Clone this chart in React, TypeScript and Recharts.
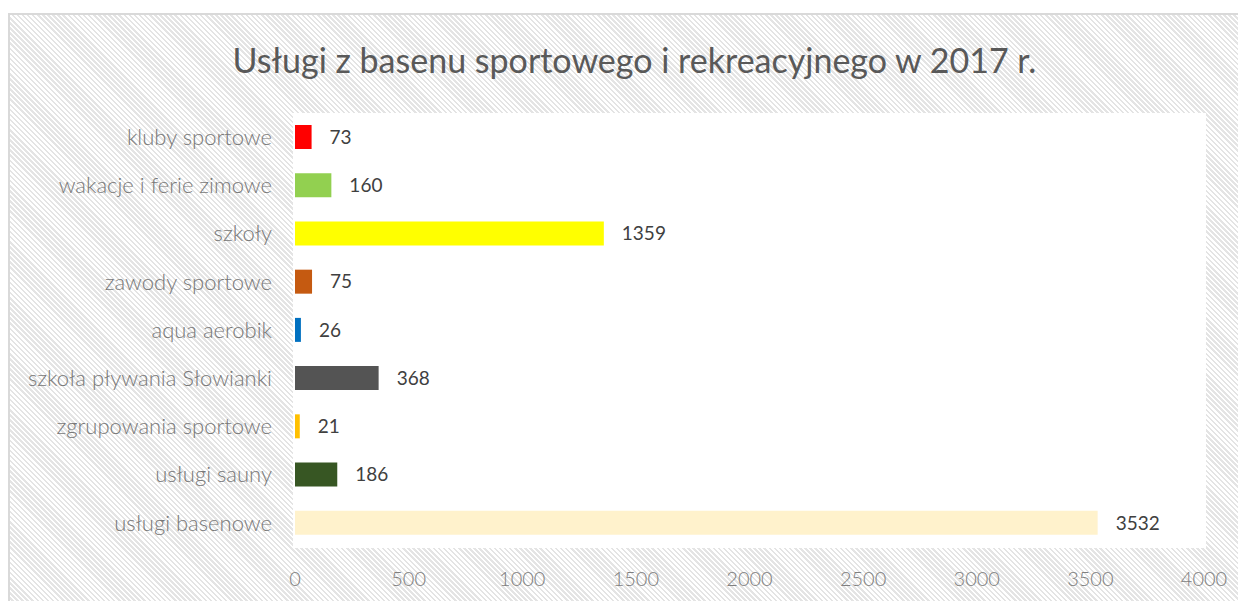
import { BarChart, Bar, XAxis, YAxis, Cell, LabelList } from 'recharts';

// categories top → bottom, as in the picture
const categories = [
  'kluby sportowe',
  'wakacje i ferie zimowe',
  'szkoły',
  'zawody sportowe',
  'aqua aerobik',
  'szkoła pływania Słowianki',
  'zgrupowania sportowe',
  'usługi sauny',
  'usługi basenowe',
];

const values = [73, 160, 1359, 75, 26, 368, 21, 186, 3532];

const colors = ['#ff0000', '#92d050', '#ffff00', '#c55a11', '#0070c0', '#545454', '#ffc000', '#375623', '#fff2cc'];

const xTicks = [0, 500, 1000, 1500, 2000, 2500, 3000, 3500, 4000];

const title = 'Usługi z basenu sportowego i rekreacyjnego w 2017 r.';

const data = categories.map((name, i) => ({ name, value: values[i], color: colors[i] }));

const FONT = 'Lato, "Open Sans", sans-serif';

// plot box inside the chart svg
const PLOT = { left: 285, top: 98, right: 42, bottom: 55 };
const W = 1236;
const H = 587;

export default function App() {
  return (
    <div
      style={{
        position: 'relative',
        marginTop: 5,
        width: W,
        height: H,
        borderTop: '2px solid #d9d9d9',
        borderLeft: '2px solid #d9d9d9',
        background:
          'repeating-linear-gradient(45deg, #ffffff 0px, #ffffff 1.8px, #e4e4e4 1.8px, #e4e4e4 3.6px)',
        overflow: 'hidden',
        fontFamily: FONT,
      }}
    >
      {/* white plot area */}
      <div
        style={{
          position: 'absolute',
          left: PLOT.left - 2,
          top: PLOT.top,
          width: W - PLOT.left - PLOT.right + 4,
          height: H - PLOT.top - PLOT.bottom + 1,
          background: '#ffffff',
        }}
      />
      <div
        style={{
          position: 'absolute',
          top: 24,
          left: 0,
          width: 1249,
          textAlign: 'center',
          fontSize: 34,
          color: '#595959',
          whiteSpace: 'nowrap',
        }}
      >
        {title}
      </div>
      <div style={{ position: 'absolute', top: 0, left: 0 }}>
        <BarChart
          width={W}
          height={H}
          data={data}
          layout="vertical"
          margin={{ top: PLOT.top, right: PLOT.right, left: 0, bottom: 0 }}
        >
          <XAxis
            type="number"
            domain={[0, 4000]}
            ticks={xTicks}
            height={PLOT.bottom}
            axisLine={false}
            tickLine={false}
            tickSize={0}
            tickMargin={25}
            tick={{ fill: '#7f7f7f', fontSize: 20, fontFamily: FONT, fontWeight: 300 }}
          />
          <YAxis
            type="category"
            dataKey="name"
            width={PLOT.left}
            axisLine={false}
            tickLine={false}
            tickSize={0}
            tickMargin={23}
            tick={{ fill: '#787878', fontSize: 22, fontFamily: FONT, fontWeight: 300 }}
            interval={0}
          />
          <Bar dataKey="value" barSize={24} fill="#ff0000" isAnimationActive={false}>
            {data.map((d) => (
              <Cell key={d.name} fill={d.color} />
            ))}
            <LabelList dataKey="value" position="right" offset={18} fill="#404040" fontSize={19} fontFamily={FONT} />
          </Bar>
        </BarChart>
      </div>
    </div>
  );
}
